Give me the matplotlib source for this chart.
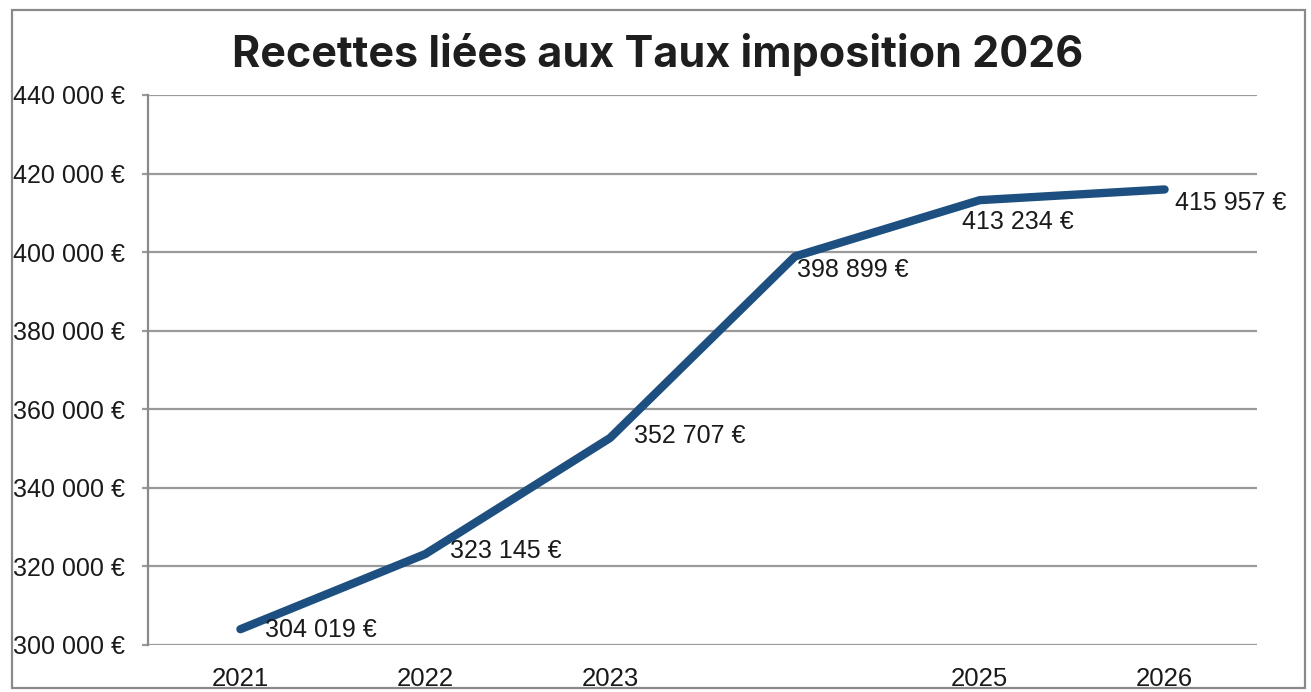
import matplotlib
matplotlib.use("Agg")
import matplotlib.pyplot as plt
from matplotlib.patches import Rectangle
from matplotlib.ticker import FuncFormatter

years = ["2021", "2022", "2023", "2024", "2025", "2026"]
tick_labels = ["2021", "2022", "2023", "", "2025", "2026"]
values = [304019, 323145, 352707, 398899, 413234, 415957]
value_labels = ["304 019 €", "323 145 €", "352 707 €", "398 899 €", "413 234 €", "415 957 €"]

# label offsets in pixels (dx to left edge, dy to vertical centre)
label_dx = [25, 25, 24, 2, -18, 10]
label_dy = [-1, 3, 2, -14, -22, -14]

W, H, DPI = 1311, 692, 100
fig = plt.figure(figsize=(W / DPI, H / DPI), dpi=DPI)
fig.patch.set_facecolor("white")

font = "Liberation Sans"
ax = fig.add_axes([148 / W, 1 - 645 / H, (1257 - 148) / W, (645 - 95) / H])

x = list(range(len(years)))
ax.plot(x, values, color="#1d5080", lw=6, solid_capstyle="round",
        solid_joinstyle="round", zorder=3)

ax.set_xlim(-0.5, len(years) - 0.5)
ax.set_ylim(300000, 440000)
ax.set_yticks(range(300000, 440001, 20000))
ax.yaxis.set_major_formatter(FuncFormatter(lambda v, p: f"{int(v):,} €".replace(",", " ")))
ax.set_xticks(x)
ax.set_xticklabels(tick_labels)

ax.grid(axis="y", color="#9a9a9a", lw=1.6, zorder=1)
for s in ["top", "right", "bottom"]:
    ax.spines[s].set_visible(False)
ax.spines["left"].set_color("#8a8a8a")
ax.spines["left"].set_linewidth(1.6)

ax.tick_params(axis="y", length=4.5, width=1.6, color="#9a9a9a", pad=12,
               labelsize=18, labelcolor="#1a1a1a")
ax.tick_params(axis="x", length=0, pad=16, labelsize=18.5, labelcolor="#1a1a1a")
for lab in ax.get_xticklabels() + ax.get_yticklabels():
    lab.set_fontfamily(font)

for xi, v, t, dx, dy in zip(x, values, value_labels, label_dx, label_dy):
    ax.annotate(t, (xi, v), xytext=(dx * 72 / DPI, dy * 72 / DPI),
                textcoords="offset points", ha="left", va="center",
                fontsize=18, fontfamily=font, color="#1a1a1a", zorder=4)

fig.text(658 / W, 1 - 55 / H, "Recettes liées aux Taux imposition 2026",
         ha="center", va="center", fontsize=31, fontweight="bold",
         fontfamily="Inter", color="#1e1e1e")

fig.patches.append(Rectangle((12 / W, 1 - 688 / H), (1305 - 12) / W, (688 - 10) / H,
                             transform=fig.transFigure, fill=False,
                             edgecolor="#8a8a8a", lw=1.6))

fig.savefig("out.png", dpi=DPI)
